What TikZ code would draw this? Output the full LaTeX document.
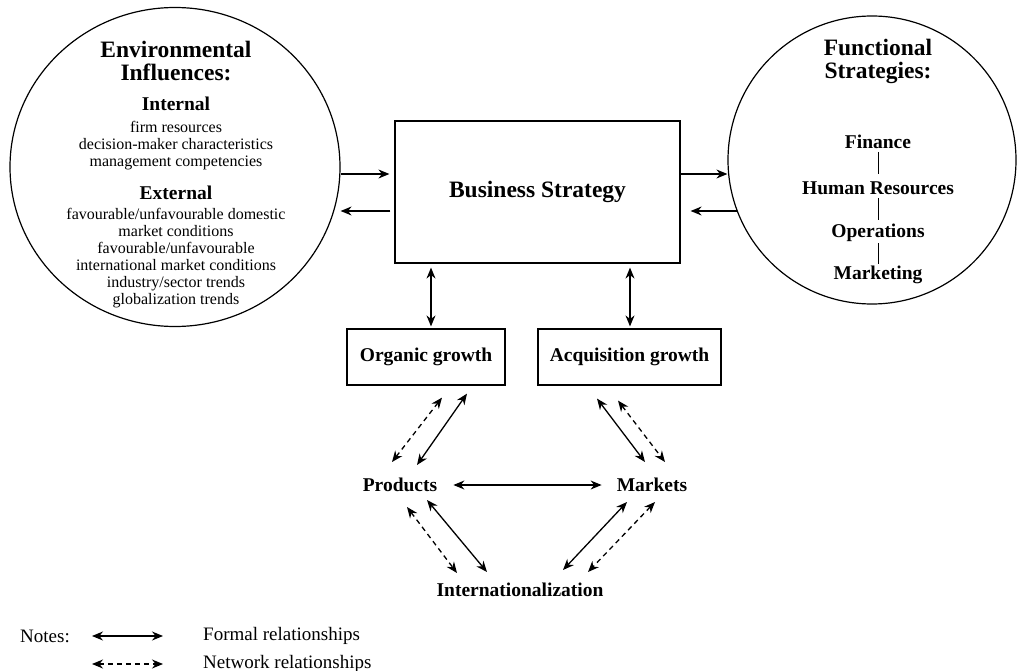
\documentclass[tikz,border=0pt]{standalone}
\usepackage{fontspec}
\setmainfont{Liberation Serif}
\usetikzlibrary{positioning,calc,shapes.geometric,arrows.meta}

\begin{document}
\begin{tikzpicture}[
        x=1pt, y=-1pt,
        title/.style={font=\fontsize{23.5}{23}\selectfont\bfseries, align=center, inner sep=0pt},
        head/.style={font=\fontsize{19.5}{21}\selectfont\bfseries, inner sep=0pt},
        small/.style={font=\fontsize{16}{17}\selectfont, align=center, inner sep=0pt},
        legend/.style={font=\fontsize{19}{21}\selectfont, inner sep=0pt, anchor=west},
        box/.style={draw, line width=1.2pt, minimum height=56pt, font=\fontsize{19.5}{21}\selectfont\bfseries},
        flow/.style={line width=1.3pt, -{Stealth[length=11pt,width=9pt]}},
        both/.style={line width=1.3pt, {Stealth[length=11pt,width=9pt]}-{Stealth[length=11pt,width=9pt]}},
        netw/.style={both, dash pattern=on 5pt off 4pt}
    ]
        \useasboundingbox (0,0) rectangle (1017,671);

        % Environmental influences
        \node[ellipse, draw, line width=1.2pt, minimum width=330pt, minimum height=319pt, inner sep=0pt] (env) at (175,167) {};
        \node[title] (envT) at (176,61.5) {Environmental\\Influences:};
        \node[head] (intH) at (176,104) {Internal};
        \node[small] (intL) at (176,146) {firm resources\\decision-maker characteristics\\management competencies};
        \node[head] (extH) at (176,193) {External};
        \node[small] (extL) at (176,258) {favourable/unfavourable domestic\\market conditions\\favourable/unfavourable\\international market conditions\\industry/sector trends\\globalization trends};

        % Functional strategies
        \node[circle, draw, line width=1.2pt, minimum size=288pt, inner sep=0pt] (fs) at (872,160) {};
        \node[title] (fsT) at (878,61) {Functional\\Strategies:};
        \node[head] (fin) at (878,142) {Finance};
        \node[head] (hr) at (878,188) {Human Resources};
        \node[head] (op) at (878,233) {Operations};
        \node[head] (mar) at (878,275) {Marketing};
        \draw[line width=1pt] ($(fin)+(0,10)$) -- ($(hr)+(0,-14)$);
        \draw[line width=1pt] ($(hr)+(0,10)$) -- ($(op)+(0,-13)$);
        \draw[line width=1pt] ($(op)+(0,10)$) -- ($(mar)+(0,-11)$);

        % Boxes
        \node[box, minimum width=285pt, minimum height=142pt, font=\fontsize{23.5}{25}\selectfont\bfseries] (bs) at (537.5,192) {Business Strategy};
        \node[box, minimum width=158pt] (og) at (426,357) {Organic growth};
        \node[box, minimum width=183pt] (ag) at (629.5,357) {Acquisition growth};

        % Products, markets, internationalization
        \node[head] (pr) at (400,485) {Products};
        \node[head] (mk) at (652,485) {Markets};
        \node[head] (intl) at (520,590) {Internationalization};

        % Circles <-> business strategy
        \draw[flow] ($(env.east)+(0,7)$) -- ($(bs.west)+(-5,-18)$);
        \draw[flow] ($(bs.west)+(-4,19)$) -- ($(env.east)+(0,44)$);
        \draw[flow] ($(bs.east)+(0,-18)$) -- ($(fs.west)+(0,14)$);
        \draw[flow] ($(fs.west)+(10,51)$) -- ($(bs.east)+(10,19)$);

        % Business strategy <-> growth
        \draw[both] ($(bs.south)+(-106.5,4)$) -- ($(og.north)+(5,-2)$);
        \draw[both] ($(bs.south)+(92.5,4)$) -- ($(ag.north)+(0.5,-2)$);

        % Growth <-> products and markets
        \draw[netw] ($(pr)+(-8,-23)$) -- ($(og.south)+(16,12)$);
        \draw[both] ($(pr)+(17,-20)$) -- ($(og.south)+(41,8)$);
        \draw[both] ($(ag.south)+(-32.5,13)$) -- ($(mk)+(-7,-23)$);
        \draw[netw] ($(ag.south)+(-11.5,15)$) -- ($(mk)+(13,-23)$);

        % Products <-> markets
        \draw[both] ($(pr.east)+(16,0)$) -- ($(mk.west)+(-15,0)$);

        % Internationalization
        \draw[netw] ($(pr)+(7,22)$) -- ($(intl)+(-63,-17)$);
        \draw[both] ($(pr)+(27,15)$) -- ($(intl)+(-33,-18)$);
        \draw[both] ($(mk)+(-25,17)$) -- ($(intl)+(43,-20)$);
        \draw[netw] ($(mk)+(3,17)$) -- ($(intl)+(68,-18)$);

        % Notes
        \node[legend] (notes) at (20,636) {Notes:};
        \coordinate (fA) at (92,636);
        \coordinate (fB) at (163,636);
        \coordinate (nA) at (92,664);
        \coordinate (nB) at (163,664);
        \draw[both] (fA) -- (fB);
        \draw[netw] (nA) -- (nB);
        \node[legend, right=40pt of fB] (formal) {Formal relationships};
        \node[legend, right=40pt of nB] (network) {Network relationships};

    \end{tikzpicture}
\end{document}
